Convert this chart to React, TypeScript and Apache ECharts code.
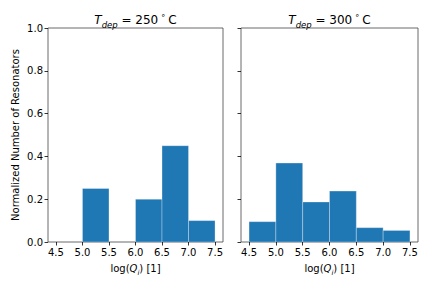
import React, { useEffect, useRef } from "react";
import * as echarts from "echarts";

const BIN_EDGES = [4.5, 5.0, 5.5, 6.0, 6.5, 7.0, 7.5];
const FRAC_250 = [0, 0.25, 0, 0.2, 0.45, 0.1];
const FRAC_300 = [0.095, 0.369, 0.187, 0.238, 0.067, 0.054];
const X_TICKS = [4.5, 5.0, 5.5, 6.0, 6.5, 7.0, 7.5];
const TITLE_TEMPS = ["250", "300"];
const Y_LABEL = "Normalized Number of Resonators";

const FONT = "DejaVu Sans";
const BLUE = "#1f77b4";

function binData(values: number[]) {
  return values.map((v, i) => [BIN_EDGES[i], BIN_EDGES[i + 1], v]);
}

function renderBin(params: any, api: any) {
  const x0 = api.value(0);
  const x1 = api.value(1);
  const v = api.value(2);
  if (!v) return null;
  const p0 = api.coord([x0, v]);
  const p1 = api.coord([x1, 0]);
  return {
    type: "rect",
    shape: { x: p0[0], y: p0[1], width: p1[0] - p0[0], height: p1[1] - p0[1] },
    style: { fill: BLUE, stroke: "rgba(255,255,255,0.3)", lineWidth: 1 },
  };
}

const rich = {
  i: { fontFamily: FONT, fontStyle: "italic", fontSize: 12, color: "#000", lineHeight: 14, verticalAlign: "middle" },
  s: { fontFamily: FONT, fontStyle: "italic", fontSize: 8.5, color: "#000", lineHeight: 18, verticalAlign: "bottom" },
  n: { fontFamily: FONT, fontSize: 12, color: "#000", lineHeight: 14, verticalAlign: "middle" },
  d: { fontFamily: FONT, fontSize: 8, color: "#000", lineHeight: 18, verticalAlign: "top" },
};

const xRich = {
  n: { fontFamily: FONT, fontSize: 10, color: "#000", lineHeight: 12, verticalAlign: "middle" },
  i: { fontFamily: FONT, fontStyle: "italic", fontSize: 10, color: "#000", lineHeight: 12, verticalAlign: "middle" },
  s: { fontFamily: FONT, fontStyle: "italic", fontSize: 7, color: "#000", lineHeight: 15, verticalAlign: "bottom" },
};

export default function App() {
  const ref = useRef<HTMLDivElement>(null);
  useEffect(() => {
    document.body.style.margin = "0";
    const chart = echarts.init(ref.current!, null, { renderer: "svg" });
    const grids = [
      { left: 48, top: 28, width: 175, height: 214 },
      { left: 241, top: 28, width: 177, height: 214 },
    ];
    const xAxis = grids.map((_, k) => ({
      type: "value",
      gridIndex: k,
      min: 4.35,
      max: 7.65,
      axisLine: { show: false },
      splitLine: { show: false },
      axisTick: { show: true, customValues: X_TICKS, length: 3.5, lineStyle: { color: "#000", width: 0.8 } },
      axisLabel: {
        customValues: X_TICKS,
        formatter: (v: number) => v.toFixed(1),
        fontFamily: FONT,
        fontSize: 10,
        color: "#000",
        margin: 5,
      },
      name: "{n|log(}{i|Q}{s|i}{n|) [1]}",
      nameLocation: "middle",
      nameGap: 19,
      nameTextStyle: { rich: xRich },
    }));
    const yAxis = grids.map((_, k) => ({
      type: "value",
      gridIndex: k,
      min: 0,
      max: 1,
      interval: 0.2,
      axisLine: { show: false },
      splitLine: { show: false },
      axisTick: { show: true, length: 3.5, lineStyle: { color: "#000", width: 0.8 } },
      axisLabel: {
        show: k === 0,
        formatter: (v: number) => v.toFixed(1),
        fontFamily: FONT,
        fontSize: 10,
        color: "#000",
        margin: 5,
      },
      name: k === 0 ? Y_LABEL : "",
      nameLocation: "middle",
      nameRotate: 90,
      nameGap: 28,
      nameTextStyle: { fontFamily: FONT, fontSize: 10, color: "#000" },
    }));
    chart.setOption({
      animation: false,
      backgroundColor: "#fff",
      grid: grids.map((g) => ({ ...g, show: true, borderColor: "#444", borderWidth: 0.8, backgroundColor: "transparent" })),
      xAxis,
      yAxis,
      graphic: TITLE_TEMPS.map((t, k) => ({
        type: "text",
        x: grids[k].left + grids[k].width / 2,
        y: 20,
        style: {
          text: `{i|T}{s|dep}{n| = ${t}}{d| ∘ }{n|C}`,
          rich,
          align: "center",
          verticalAlign: "middle",
        },
      })),
      series: [FRAC_250, FRAC_300].map((vals, k) => ({
        type: "custom",
        xAxisIndex: k,
        yAxisIndex: k,
        renderItem: renderBin,
        encode: { x: [0, 1], y: 2 },
        data: binData(vals),
        clip: true,
      })),
    });
    return () => chart.dispose();
  }, []);
  return <div ref={ref} style={{ width: 432, height: 288 }} />;
}
